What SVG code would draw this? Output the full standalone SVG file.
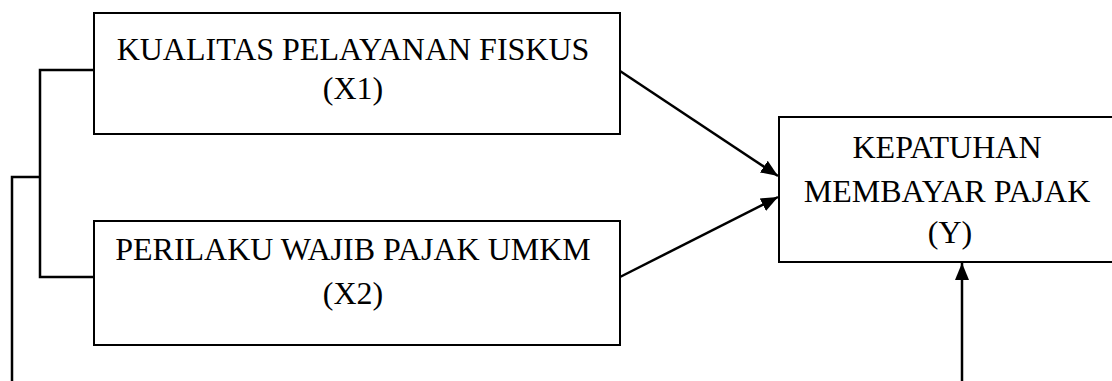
<svg xmlns="http://www.w3.org/2000/svg" width="1112" height="381" viewBox="0 0 1112 381">
<style>
.box{fill:#fff;stroke:#000;stroke-width:2}
.t{font-family:"Liberation Serif","Times New Roman",serif;font-size:32px;fill:#000;text-anchor:middle}
.c{fill:none;stroke:#000;stroke-width:2.5}
</style>
<defs>
<marker id="ah" markerUnits="userSpaceOnUse" markerWidth="17" markerHeight="14" viewBox="0 0 17 14" refX="17" refY="7" orient="auto">
<path d="M0,0 L17,7 L0,14 Z" fill="#000"/>
</marker>
</defs>
<rect width="1112" height="381" fill="#fff"/>
<g id="connectors">
<polyline class="c" points="94,70 40,70 40,277 94,277"/>
<polyline class="c" points="40,177 12,177 12,381"/>
<line class="c" x1="620" y1="71" x2="778" y2="176" marker-end="url(#ah)"/>
<line class="c" x1="620" y1="277" x2="778" y2="197" marker-end="url(#ah)"/>
<line class="c" x1="962" y1="381" x2="962" y2="263" marker-end="url(#ah)"/>
</g>
<g id="node-x1">
<rect class="box" x="94" y="13" width="526" height="121"/>
<text class="t" x="353" y="60">KUALITAS PELAYANAN FISKUS</text>
<text class="t" x="353" y="99">(X1)</text>
</g>
<g id="node-x2">
<rect class="box" x="94" y="221" width="526" height="124"/>
<text class="t" x="353" y="260">PERILAKU WAJIB PAJAK UMKM</text>
<text class="t" x="353" y="304">(X2)</text>
</g>
<g id="node-y">
<rect class="box" x="779" y="117" width="340" height="145"/>
<text class="t" x="947" y="158">KEPATUHAN</text>
<text class="t" x="947" y="202">MEMBAYAR PAJAK</text>
<text class="t" x="950" y="243">(Y)</text>
</g>
</svg>
